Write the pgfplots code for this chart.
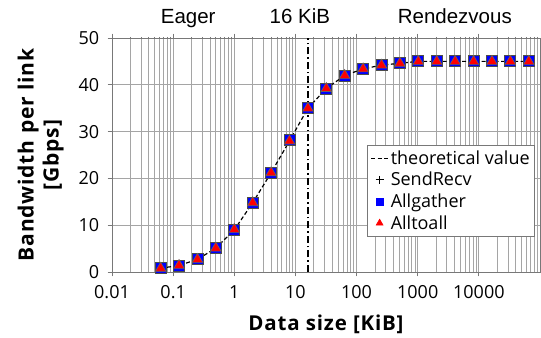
\documentclass[border=0pt]{standalone}
\usepackage{fontspec}
\setmainfont{Open Sans}
\newfontfamily\arialf{Liberation Sans}
\newfontfamily\labf[LetterSpace=4]{Open Sans}
\usepackage{pgfplots}
\pgfplotsset{compat=1.18}
\definecolor{gridc}{RGB}{165,165,165}
\definecolor{axc}{RGB}{120,120,120}
\begin{document}
\begin{tikzpicture}
\begin{axis}[
  name=ax,
  scale only axis,
  width=428pt, height=234pt,
  xmode=log, log basis x=10,
  xmin=0.01, xmax=100000,
  ymin=0, ymax=50,
  ytick={0,10,20,30,40,50},
  xtick={0.01,0.1,1,10,100,1000,10000},
  xticklabels={0.01,0.1,1,10,100,1000,10000},
  minor xtick={0.02,0.03,0.04,0.05,0.06,0.07,0.08,0.09,0.2,0.3,0.4,0.5,0.6,0.7,0.8,0.9,2,3,4,5,6,7,8,9,20,30,40,50,60,70,80,90,200,300,400,500,600,700,800,900,2000,3000,4000,5000,6000,7000,8000,9000,20000,30000,40000,50000,60000,70000,80000,90000},
  /pgf/number format/assume math mode=true,
  tick label style={font=\fontsize{18}{22}\selectfont},
  xticklabel style={yshift=-6pt},
  yticklabel style={xshift=-5pt},
  grid=both,
  grid style={draw=gridc, line width=0.8pt},
  axis line style={axc, line width=0.9pt},
  xtick align=outside, ytick align=outside,
  tick style={axc, line width=0.8pt},
  minor tick length=1pt,
  xlabel={Data size [KiB]},
  xlabel style={font=\labf\bfseries\fontsize{20.5}{22}\selectfont, yshift=-9pt},
  ylabel={Bandwidth per link\\\relax [Gbps]},
  ylabel style={font=\labf\bfseries\fontsize{21}{25}\selectfont, align=center, yshift=8pt},
  clip=false,
  legend style={at={(0.988,0.154)}, anchor=south east, draw=axc, fill=white,
    font=\fontsize{18}{21}\selectfont, row sep=2.5pt, inner sep=3pt,
    cells={anchor=west}},
  legend cell align=left,
]
\addplot[black, line width=1.2pt, dash pattern=on 4pt off 2.5pt] coordinates {
(0.0625,0.8)(0.125,1.4)(0.25,2.7)(0.5,5.1)(1,9.0)(2,14.8)(4,21.2)(8,28.0)(16,35.0)(32,39.2)(64,42.0)(128,43.4)(256,44.2)(512,44.6)(1024,45.0)(2048,45.0)(4096,45.0)(8192,45.0)(16384,45.0)(32768,45.0)(65536,45.0)};
\addlegendentry{theoretical value}
\addplot[only marks, mark=+, black, mark size=5pt, line width=1pt, legend image post style={mark size=4pt, line width=0.8pt}] coordinates {
(0.0625,0.8)(0.125,1.4)(0.25,2.7)(0.5,5.1)(1,9.0)(2,14.8)(4,21.2)(8,28.2)(16,35.0)(32,39.2)(64,42.0)(128,43.4)(256,44.2)(512,44.6)(1024,45.0)(2048,45.0)(4096,45.0)(8192,45.0)(16384,45.0)(32768,45.0)(65536,45.0)};
\addlegendentry{SendRecv}
\addplot[only marks, mark=square*, mark size=5.5pt, draw=black!70, fill=blue, line width=0.8pt, legend image post style={mark size=3.5pt, draw=blue}] coordinates {
(0.0625,0.8)(0.125,1.4)(0.25,2.7)(0.5,5.1)(1,9.1)(2,14.8)(4,21.2)(8,28.3)(16,35.0)(32,39.2)(64,42.0)(128,43.4)(256,44.2)(512,44.6)(1024,45.0)(2048,45.0)(4096,45.0)(8192,45.0)(16384,45.0)(32768,45.0)(65536,45.0)};
\addlegendentry{Allgather}
\addplot[only marks, mark=triangle*, mark size=6pt, draw=black!60, fill=red, line width=0.6pt, legend image post style={mark size=4pt, draw=red}] coordinates {
(0.0625,0.8)(0.125,1.4)(0.25,2.7)(0.5,5.1)(1,9.1)(2,14.8)(4,21.2)(8,28.0)(16,35.0)(32,39.2)(64,42.0)(128,43.4)(256,44.2)(512,44.6)(1024,45.0)(2048,45.0)(4096,45.0)(8192,45.0)(16384,45.0)(32768,45.0)(65536,45.0)};
\addlegendentry{Alltoall}
\draw[black, line width=1.2pt, dash pattern=on 7pt off 3pt on 1.5pt off 3pt] (axis cs:16,0) -- (axis cs:16,50);
\node[font=\arialf\fontsize{20.5}{22}\selectfont, anchor=base] at ([yshift=14pt]rel axis cs:0.178,1) {Eager};
\node[font=\arialf\fontsize{20.5}{22}\selectfont, anchor=base] at ([yshift=14pt]rel axis cs:0.439,1) {16 KiB};
\node[font=\arialf\fontsize{20.5}{22}\selectfont, anchor=base] at ([yshift=14pt]rel axis cs:0.801,1) {Rendezvous};
\end{axis}
\pgfresetboundingbox
\path[use as bounding box] ([xshift=-112pt,yshift=-66pt]ax.south west) rectangle ([xshift=1pt,yshift=38pt]ax.north east);
\end{tikzpicture}
\end{document}
